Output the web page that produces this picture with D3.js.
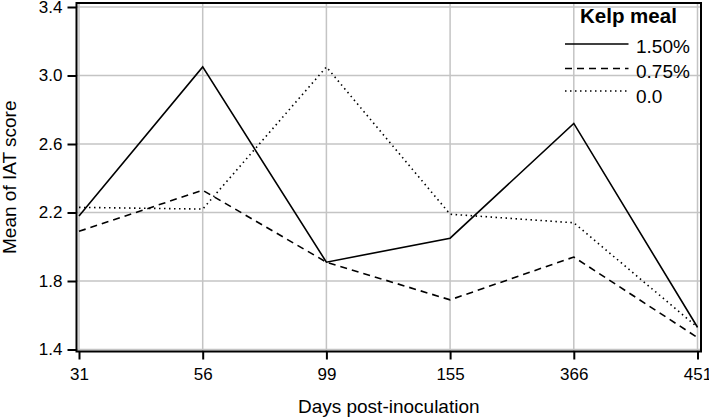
<!DOCTYPE html>
<html>
<head>
<meta charset="utf-8">
<script src="https://cdn.jsdelivr.net/npm/d3@7"></script>
<style>
  html, body { margin: 0; padding: 0; background: #fff; }
  svg { display: block; font-family: "Liberation Sans", Arial, Helvetica, sans-serif; }
</style>
</head>
<body>
<svg id="chart" width="709" height="418"></svg>
<script>
// ---- data ----
const days = ["31", "56", "99", "155", "366", "451"];
const kelp150 = [2.18, 3.05, 1.91, 2.05, 2.72, 1.53];
const kelp075 = [2.09, 2.33, 1.91, 1.69, 1.94, 1.47];
const kelp000 = [2.23, 2.22, 3.05, 2.19, 2.14, 1.53];
const yTicks = [1.4, 1.8, 2.2, 2.6, 3.0, 3.4];
const seriesNames = ["1.50%", "0.75%", "0.0"];
const legendTitle = "Kelp meal";
const xTitle = "Days post-inoculation";
const yTitle = "Mean of IAT score";

const series = [
  { name: seriesNames[0], values: kelp150, dash: null },
  { name: seriesNames[1], values: kelp075, dash: "7,5" },
  { name: seriesNames[2], values: kelp000, dash: "1.5,3.5" }
];

// ---- layout ----
const svg = d3.select("#chart");
const frame = { left: 76.5, right: 701, top: 3, bottom: 351.5 };

const x = d3.scalePoint().domain(days).range([79, 697.5]);
const y = d3.scaleLinear().domain([1.4, 3.4]).range([349.5, 7]);

// gridlines
const grid = svg.append("g");
grid.selectAll("line.v").data(days).enter().append("line")
  .attr("x1", d => x(d)).attr("x2", d => x(d))
  .attr("y1", frame.top).attr("y2", frame.bottom)
  .attr("stroke", "#c4c4c4").attr("stroke-width", 1.5);
grid.selectAll("line.h").data(yTicks).enter().append("line")
  .attr("x1", frame.left).attr("x2", frame.right)
  .attr("y1", d => y(d)).attr("y2", d => y(d))
  .attr("stroke", "#c4c4c4").attr("stroke-width", 1.5);

// lines
const line = d3.line().x((d, i) => x(days[i])).y(d => y(d));
svg.append("g").selectAll("path").data(series).enter().append("path")
  .attr("d", d => line(d.values))
  .attr("fill", "none")
  .attr("stroke", "#000")
  .attr("stroke-width", 1.6)
  .attr("stroke-dasharray", d => d.dash);

// frame
svg.append("rect")
  .attr("x", frame.left).attr("y", frame.top)
  .attr("width", frame.right - frame.left).attr("height", frame.bottom - frame.top)
  .attr("fill", "none").attr("stroke", "#000").attr("stroke-width", 2);

// y axis
const yAxis = d3.axisLeft(y).tickValues(yTicks).tickFormat(d3.format(".1f")).tickSize(9).tickPadding(5);
const gy = svg.append("g").attr("transform", `translate(${frame.left},0)`).call(yAxis);
gy.select(".domain").remove();
gy.selectAll(".tick line").attr("stroke", "#000").attr("stroke-width", 2);
gy.selectAll(".tick text").attr("font-size", 17).attr("fill", "#000")
  .attr("font-family", "Liberation Sans, Arial, sans-serif");

// x axis
const xAxis = d3.axisBottom(x).tickSize(8).tickPadding(8);
const gx = svg.append("g").attr("transform", `translate(0,${frame.bottom})`).call(xAxis);
gx.select(".domain").remove();
gx.selectAll(".tick line").attr("stroke", "#000").attr("stroke-width", 2);
gx.selectAll(".tick text").attr("font-size", 17).attr("fill", "#000")
  .attr("font-family", "Liberation Sans, Arial, sans-serif");

// axis titles
svg.append("text")
  .attr("x", (frame.left + frame.right) / 2).attr("y", 413)
  .attr("text-anchor", "middle").attr("font-size", 19).attr("fill", "#000")
  .text(xTitle);
svg.append("text")
  .attr("transform", `translate(16,${(frame.top + frame.bottom) / 2}) rotate(-90)`)
  .attr("text-anchor", "middle").attr("font-size", 19).attr("fill", "#000")
  .text(yTitle);

// legend
const lg = svg.append("g");
lg.append("text")
  .attr("x", 580).attr("y", 22.5)
  .attr("font-size", 20.5).attr("font-weight", "bold").attr("fill", "#000")
  .text(legendTitle);
const legY = [44, 68.5, 91];
const legTextY = [53, 78, 103];
series.forEach((s, i) => {
  lg.append("line")
    .attr("x1", 565).attr("x2", 628.5)
    .attr("y1", legY[i]).attr("y2", legY[i])
    .attr("stroke", "#000").attr("stroke-width", 1.6)
    .attr("stroke-dasharray", s.dash);
  lg.append("text")
    .attr("x", 636).attr("y", legTextY[i])
    .attr("font-size", 19).attr("fill", "#000")
    .text(s.name);
});
</script>
</body>
</html>
